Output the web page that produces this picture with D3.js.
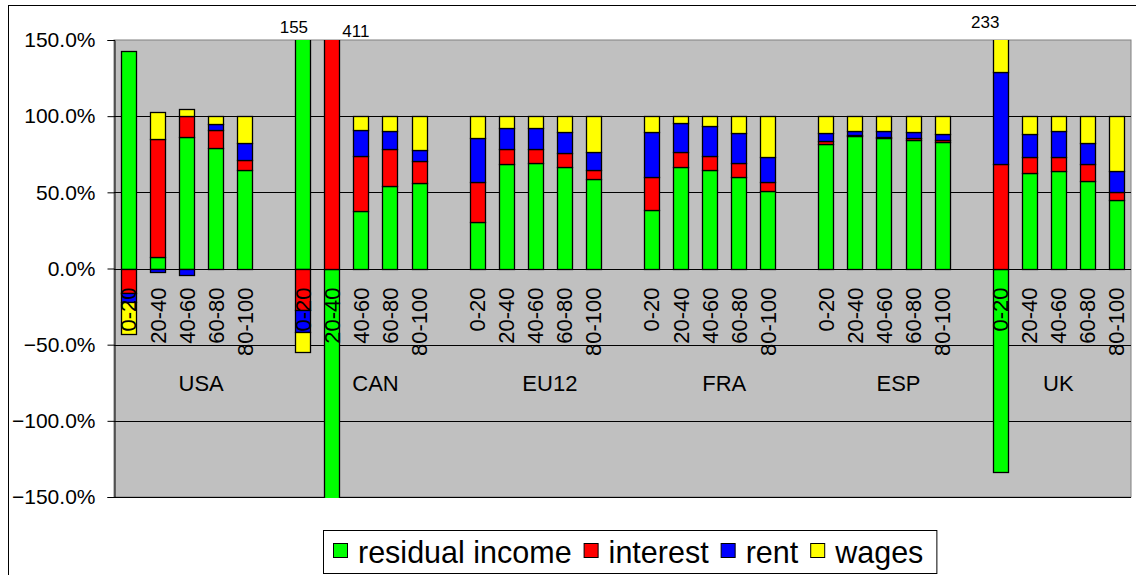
<!DOCTYPE html>
<html>
<head>
<meta charset="utf-8">
<script src="https://cdn.jsdelivr.net/npm/d3@7/dist/d3.min.js"></script>
<style>
  body { margin: 0; background: #fff; }
  text { font-family: "Liberation Sans", Arial, sans-serif; fill: #000; }
</style>
</head>
<body>
<script>
// countries and income brackets (quintiles)
const groups   = ["USA", "CAN", "EU12", "FRA", "ESP", "UK"];
const brackets = ["0-20", "20-40", "40-60", "60-80", "80-100"];

// shares in %, 5 brackets per country, same order as groups
const residual = [143, 7.5, 86.4, 79, 64.5,
                  155, -311, 37.7, 54.1, 56.1,
                  30.2, 68.6, 69.5, 66.9, 58.5,
                  38.3, 66.7, 64.9, 60.3, 50.6,
                  81.8, 87.1, 85.8, 84.2, 83.3,
                  -133.9, 62.8, 64.2, 57.6, 45.1];
const interest = [-15.8, 77.2, 13.6, 11.8, 6.4,
                  -27, 411, 36, 24.6, 14.5,
                  26.3, 9.9, 9.0, 9.0, 6.2,
                  21.9, 10.1, 9.2, 9.2, 6.2,
                  2.0, 0.3, 0.7, 1.3, 1.3,
                  68.8, 10.3, 9.0, 10.7, 5.3];
const rent     = [-5.9, -2.6, -4.2, 4.1, 11.2,
                  -15, 0, 17.5, 11.4, 7.5,
                  29.2, 13.8, 13.8, 14.0, 12.1,
                  29.4, 18.6, 19.6, 19.6, 16.7,
                  5.3, 2.6, 3.5, 4.4, 3.5,
                  59.9, 15.0, 16.9, 14.1, 13.8];
const wages    = [-21.6, 18.2, 4.8, 5.2, 18,
                  -12.5, 0, 8.8, 9.9, 21.9,
                  14.2, 7.6, 7.6, 10.1, 23.3,
                  10.3, 4.6, 6.4, 10.9, 26.6,
                  10.9, 10.1, 10.1, 10.1, 11.9,
                  104.3, 11.9, 9.9, 17.4, 35.8];

const seriesNames  = ["residual income", "interest", "rent", "wages"];
const seriesColors = ["#00ff00", "#ff0000", "#0000ff", "#ffff00"];
const yTicks = [-150, -100, -50, 0, 50, 100, 150];

// bars running off the plot get their total written above it
const overflow = [
  {group: "CAN", bracket: "0-20",  dx: -9, y: 33},
  {group: "CAN", bracket: "20-40", dx: 24, y: 37},
  {group: "UK",  bracket: "0-20",  dx: -15, y: 28}
];

// build rows, one per bar, plus an empty slot between countries
const rows = [];
const domain = [];
let k = 0;
groups.forEach(function(g, gi){
    brackets.forEach(function(b){
        rows.push({key: g + "|" + b, group: g, bracket: b,
                   "residual income": residual[k], "interest": interest[k],
                   "rent": rent[k], "wages": wages[k]});
        domain.push(g + "|" + b);
        k++;
    });
    if (gi < groups.length - 1) domain.push(g + "|gap");
});

const W = 1136, H = 575;
const plot = {left: 114, right: 1131, top: 40, bottom: 497};

const svg = d3.select("body").append("svg")
    .attr("width", W)
    .attr("height", H);

// chart frame
svg.append("rect")
    .attr("x", 8.5).attr("y", 5.5)
    .attr("width", W + 10).attr("height", H + 10)
    .attr("fill", "#fff").attr("stroke", "#000");

const x = d3.scaleBand()
    .domain(domain)
    .range([plot.left, plot.right])
    .paddingInner(0.48)
    .paddingOuter(0.24);

const y = d3.scaleLinear()
    .domain([-150, 150])
    .range([plot.bottom, plot.top]);

// plot area
svg.append("rect")
    .attr("x", plot.left).attr("y", plot.top)
    .attr("width", plot.right - plot.left).attr("height", plot.bottom - plot.top)
    .attr("fill", "#c0c0c0")
    .attr("stroke", "#808080");

// gridlines
svg.append("g")
    .selectAll("line")
    .data(yTicks.filter(function(d){ return d !== 150; }))
    .enter().append("line")
    .attr("x1", plot.left).attr("x2", plot.right)
    .attr("y1", function(d){ return Math.round(y(d)) + 0.5; })
    .attr("y2", function(d){ return Math.round(y(d)) + 0.5; })
    .attr("stroke", "#000");

svg.append("clipPath").attr("id", "clip")
    .append("rect")
    .attr("x", plot.left).attr("y", plot.top)
    .attr("width", plot.right - plot.left).attr("height", plot.bottom - plot.top + 1);

const stack = d3.stack()
    .keys(seriesNames)
    .offset(d3.stackOffsetDiverging);
const stacked = stack(rows);

svg.append("g")
    .attr("clip-path", "url(#clip)")
    .selectAll("g")
    .data(stacked)
    .enter().append("g")
    .attr("fill", function(d, i){ return seriesColors[i]; })
    .selectAll("rect")
    .data(function(d){ return d.filter(function(s){ return s[1] !== s[0]; }); })
    .enter().append("rect")
    .attr("x", function(d){ return Math.round(x(d.data.key)) + 0.5; })
    .attr("width", Math.round(x.bandwidth()))
    .attr("y", function(d){ return Math.round(y(Math.max(d[0], d[1]))) + 0.5; })
    .attr("height", function(d){ return Math.round(y(Math.min(d[0], d[1]))) - Math.round(y(Math.max(d[0], d[1]))); })
    .attr("stroke", "#000")
    .attr("stroke-width", 1.3);

// left axis
const yAxis = svg.append("g")
    .attr("transform", "translate(" + (plot.left + 0.5) + ",0)")
    .call(d3.axisLeft(y).tickValues(yTicks).tickSize(7).tickPadding(12)
          .tickFormat(function(d){ return d3.format(".1f")(d) + "%"; }));
yAxis.select(".domain").attr("stroke", "#000");
yAxis.selectAll("text")
    .attr("font-size", "21px")
    .attr("font-family", "Liberation Sans, Arial, sans-serif");

// bracket labels, rotated
svg.append("g")
    .selectAll("text")
    .data(rows)
    .enter().append("text")
    .attr("transform", function(d){
        return "translate(" + (x(d.key) + x.bandwidth() / 2) + "," + (y(0) + 19) + ") rotate(-90)";
    })
    .attr("text-anchor", "end")
    .attr("dy", "0.36em")
    .attr("font-size", "22px")
    .text(function(d){ return d.bracket; });

// country labels
svg.append("g")
    .selectAll("text")
    .data(groups)
    .enter().append("text")
    .attr("x", function(g, i){
        const first = x(g + "|" + brackets[0]);
        const last  = i < groups.length - 1 ? x(g + "|gap") : x(g + "|" + brackets[brackets.length - 1]);
        return (first + last + x.bandwidth()) / 2;
    })
    .attr("y", 391)
    .attr("text-anchor", "middle")
    .attr("font-size", "22px")
    .text(function(g){ return g; });

// totals of bars cut off at the top
svg.append("g")
    .selectAll("text")
    .data(overflow)
    .enter().append("text")
    .attr("x", function(d){ return x(d.group + "|" + d.bracket) + x.bandwidth() / 2 + d.dx; })
    .attr("y", function(d){ return d.y; })
    .attr("text-anchor", "middle")
    .attr("font-size", "17px")
    .text(function(d){
        const r = rows.find(function(o){ return o.group === d.group && o.bracket === d.bracket; });
        let tot = 0;
        seriesNames.forEach(function(s){ if (r[s] > 0) tot += r[s]; });
        return Math.round(tot);
    });

// legend
const legend = svg.append("g");
const legendBox = legend.append("rect")
    .attr("y", 530.5).attr("height", 43)
    .attr("fill", "#fff").attr("stroke", "#000");
let lx = 333;
seriesNames.forEach(function(s, i){
    legend.append("rect")
        .attr("x", lx + 0.5).attr("y", 543.5)
        .attr("width", 14).attr("height", 14)
        .attr("fill", seriesColors[i]).attr("stroke", "#000");
    const t = legend.append("text")
        .attr("x", lx + 25).attr("y", 563)
        .attr("font-size", "30.5px")
        .text(s);
    lx += 25 + t.node().getComputedTextLength() + 12;
});
legendBox.attr("x", 323.5).attr("width", lx - 322);
</script>
</body>
</html>
